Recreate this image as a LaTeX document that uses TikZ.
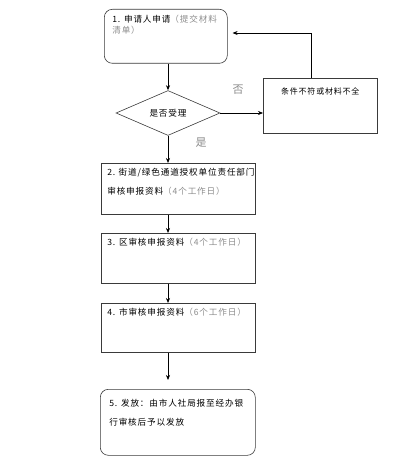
\documentclass[tikz,border=0pt]{standalone}
\usepackage{fontspec}
\newfontfamily\cjk[LetterSpace=10]{Noto Sans CJK SC}
\usetikzlibrary{positioning,arrows.meta,shapes.geometric,calc}
\definecolor{NoteGray}{HTML}{8C8C8C}
\definecolor{EdgeGray}{HTML}{3A3A3A}
\newcommand{\notetxt}[1]{\textcolor{NoteGray}{#1}}

\begin{document}
\begin{tikzpicture}[
  x=1pt, y=-1pt,
  stage/.style    = {rectangle, draw=EdgeGray, line width=0.6pt, inner xsep=6pt, inner ysep=5pt,
                     anchor=north west, font=\cjk\fontsize{8.6}{19}\selectfont},
  rstage/.style   = {stage, rounded corners=8pt},
  decision/.style = {diamond, draw=EdgeGray, line width=0.6pt, minimum width=104pt, minimum height=40pt,
                     inner sep=0pt, font=\cjk\fontsize{8.6}{10}\selectfont},
  arr/.style      = {draw=black, line width=0.6pt, -{Stealth[length=5pt,width=4pt]}},
  yesno/.style    = {font=\cjk\fontsize{11}{12}\selectfont, text=NoteGray}
]
\useasboundingbox (0,0) rectangle (400,465);

% Stages
\node[rstage, inner xsep=8pt, inner ysep=6pt] (s1) at (104,9)
  {\parbox[t][42pt][t]{107pt}{\baselineskip=11pt 1. 申请人申请\notetxt{（提交材料}\\\notetxt{清单）}}};
\node[decision] (dec) at (168,113) {是否受理};
\node[stage, inner ysep=9pt] (no) at (263,78)
  {\parbox[t][37pt][t]{102pt}{\centering\fontsize{8}{10}\selectfont 条件不符或材料不全}};
\node[stage] (s2) at (101,163)
  {\parbox[t][41pt][t]{142pt}{2. 街道/绿色通道授权单位责任部门\\审核申报资料\notetxt{（4个工作日）}}};
\node[stage] (s3) at (101,233)
  {\parbox[t][40pt][t]{142pt}{3. 区审核申报资料\notetxt{（4个工作日）}}};
\node[stage] (s4) at (101,303)
  {\parbox[t][39pt][t]{142pt}{4. 市审核申报资料\notetxt{（6个工作日）}}};
\node[rstage, inner xsep=9pt, inner ysep=10pt] (s5) at (100,389)
  {\parbox[t][46pt][t]{137pt}{5. 发放：由市人社局报至经办银\\行审核后予以发放}};

% Yes / no labels
\node[yesno] (lno)  at (238,90)  {否};
\node[yesno] (lyes) at (201,143) {是};

% Connectors
\coordinate (fb) at (311,33);
\draw[arr] (s1.south -| dec.north) -- (dec.north);
\draw[arr] (dec.east) -- (dec.east -| no.west);
\draw[arr, shorten >=5pt] (no.north -| fb) -- (fb) -- (fb -| s1.east);
\draw[arr] (dec.south) -- (dec.south |- s2.north);
\draw[arr] (s2.south -| dec.south) -- (s3.north -| dec.south);
\draw[arr] (s3.south -| dec.south) -- (s4.north -| dec.south);
\draw[arr, shorten >=9pt] (s4.south -| dec.south) -- (s5.north -| dec.south);
\end{tikzpicture}
\end{document}
